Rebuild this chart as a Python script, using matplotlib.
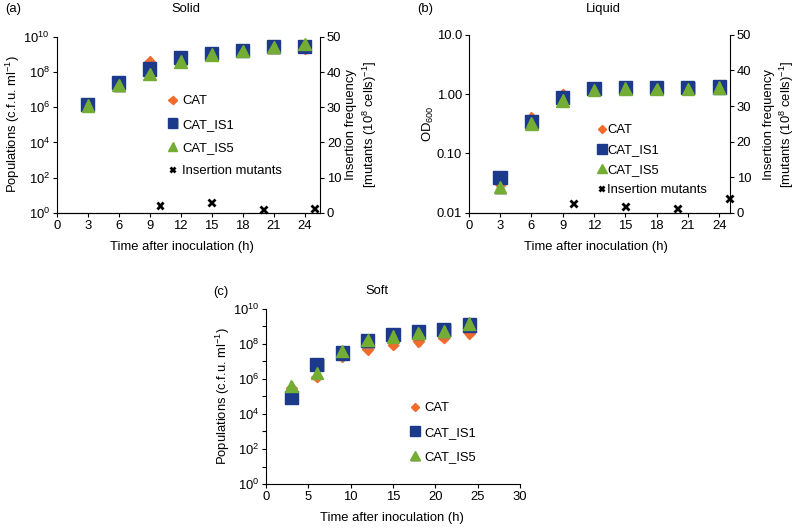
import matplotlib
matplotlib.use("Agg")
import matplotlib.pyplot as plt
import matplotlib.patheffects as pe
import numpy as np

plt.rcParams['font.family'] = ['Liberation Sans', 'DejaVu Sans']
plt.rcParams['mathtext.fontset'] = 'custom'
plt.rcParams['mathtext.rm'] = 'Liberation Sans'
plt.rcParams['mathtext.it'] = 'Liberation Sans:italic'
FS = 9.4

# ---------------- data ----------------
time = [3, 6, 9, 12, 15, 18, 21, 24]

solid_cat = [1.6e6, 2.5e7, 4.0e8, 5.0e8, 1.1e9, 1.6e9, 2.6e9, 2.3e9]
solid_is1 = [1.5e6, 2.5e7, 1.5e8, 6.5e8, 1.2e9, 1.7e9, 2.8e9, 3.0e9]
solid_is5 = [1.3e6, 1.8e7, 8.0e7, 4.0e8, 1.0e9, 1.6e9, 2.6e9, 4.0e9]

mut_time = [10, 15, 20, 25]
solid_mut = [2.0, 2.8, 1.0, 1.3]

liquid_cat = [0.030, 0.40, 1.00, 1.20, 1.30, 1.25, 1.25, 1.30]
liquid_is1 = [0.039, 0.35, 0.87, 1.25, 1.28, 1.28, 1.30, 1.32]
liquid_is5 = [0.027, 0.32, 0.78, 1.18, 1.25, 1.22, 1.22, 1.30]
liquid_mut = [2.6, 1.7, 1.1, 4.0]

soft_cat = [3.0e5, 1.3e6, 2.0e7, 5.0e7, 9.0e7, 1.4e8, 2.2e8, 4.0e8]
soft_is1 = [9.0e4, 7.0e6, 3.0e7, 1.5e8, 3.4e8, 4.8e8, 6.5e8, 1.2e9]
soft_is5 = [4.0e5, 2.2e6, 4.0e7, 1.7e8, 2.7e8, 4.3e8, 5.3e8, 1.5e9]

labels = ['CAT', 'CAT_IS1', 'CAT_IS5', 'Insertion mutants']
c_cat = '#F26B2A'
c_is1 = '#1C3A8C'
c_is5 = '#74AD33'

mshadow = [pe.SimplePatchShadow(offset=(0.8, -0.8), shadow_rgbFace='#888888', alpha=0.6), pe.Normal()]


def series(ax, cat, is1, is5):
    h1, = ax.plot(time, cat, linestyle='none', marker='D', ms=5.5, color=c_cat, mec=c_cat, path_effects=mshadow, zorder=3)
    h2, = ax.plot(time, is1, linestyle='none', marker='s', ms=9.5, color=c_is1, mec=c_is1, path_effects=mshadow, zorder=4)
    h3, = ax.plot(time, is5, linestyle='none', marker='^', ms=9, color=c_is5, mec=c_is5, path_effects=mshadow, zorder=5)
    return [h1, h2, h3]


def style(ax):
    for s in ['top', 'right']:
        ax.spines[s].set_visible(False)
    ax.tick_params(direction='out', length=3, width=0.8, labelsize=FS, pad=2)
    ax.minorticks_off()


def style_right(ax2):
    ax2.set_ylim(0, 50)
    ax2.set_yticks([0, 10, 20, 30, 40, 50])
    ax2.spines['top'].set_visible(False)
    ax2.spines['left'].set_visible(False)
    ax2.tick_params(direction='out', length=3, width=0.8, labelsize=FS, pad=2)


fig = plt.figure(figsize=(8, 5.28), dpi=100)

# ---------------- (a) Solid ----------------
axa = fig.add_axes([0.071, 0.597, 0.329, 0.333])
hs = series(axa, solid_cat, solid_is1, solid_is5)
axa.set_yscale('log')
axa.set_ylim(1, 1e10)
axa.set_xlim(0, 25.5)
axa.set_xticks([0, 3, 6, 9, 12, 15, 18, 21, 24])
axa.set_yticks([1e0, 1e2, 1e4, 1e6, 1e8, 1e10])
style(axa)
axa2 = axa.twinx()
hm, = axa2.plot(mut_time, solid_mut, linestyle='none', marker='x', ms=5, mew=2, color='black',
                path_effects=mshadow, clip_on=False, zorder=6)
style_right(axa2)
axa2.legend(hs + [hm], labels, loc='upper left', bbox_to_anchor=(0.395, 0.705), frameon=False,
            fontsize=FS, labelspacing=0.85, handlelength=0.8, handletextpad=0.35, borderpad=0,
            markerscale=0.75)
axa.set_zorder(axa2.get_zorder() + 1)
axa.patch.set_visible(False)

fig.text(0.006, 0.983, '(a)', fontsize=FS, va='center', ha='left')
fig.text(0.233, 0.983, 'Solid', fontsize=FS, va='center', ha='center')
fig.text(0.228, 0.532, 'Time after inoculation (h)', fontsize=FS, va='center', ha='center')
fig.text(0.016, 0.765, 'Populations (c.f.u. ml$^{-1}$)', fontsize=FS, va='center', ha='center', rotation=90)
fig.text(0.452, 0.765, 'Insertion frequency\n[mutants (10$^{8}$ cells)$^{-1}$]', fontsize=FS, va='center',
         ha='center', rotation=90, linespacing=1.3)

# ---------------- (b) Liquid ----------------
axb = fig.add_axes([0.586, 0.597, 0.326, 0.337])
hs = series(axb, liquid_cat, liquid_is1, liquid_is5)
axb.set_yscale('log')
axb.set_ylim(0.01, 10)
axb.set_xlim(0, 25)
axb.set_xticks([0, 3, 6, 9, 12, 15, 18, 21, 24])
axb.set_yticks([0.01, 0.1, 1, 10])
axb.set_yticklabels(['0.01', '0.10', '1.00', '10.0'])
style(axb)
axb2 = axb.twinx()
hm, = axb2.plot(mut_time, liquid_mut, linestyle='none', marker='x', ms=5, mew=2, color='black',
                path_effects=mshadow, clip_on=False, zorder=6)
style_right(axb2)
axb2.legend(hs + [hm], labels, loc='upper left', bbox_to_anchor=(0.47, 0.535), frameon=False,
            fontsize=FS, labelspacing=0.6, handlelength=0.6, handletextpad=0.1, borderpad=0,
            markerscale=0.75)
axb.set_zorder(axb2.get_zorder() + 1)
axb.patch.set_visible(False)

fig.text(0.521, 0.983, '(b)', fontsize=FS, va='center', ha='left')
fig.text(0.754, 0.983, 'Liquid', fontsize=FS, va='center', ha='center')
fig.text(0.745, 0.532, 'Time after inoculation (h)', fontsize=FS, va='center', ha='center')
fig.text(0.535, 0.765, 'OD$_{600}$', fontsize=FS, va='center', ha='center', rotation=90)
fig.text(0.974, 0.765, 'Insertion frequency\n[mutants (10$^{8}$ cells)$^{-1}$]', fontsize=FS, va='center',
         ha='center', rotation=90, linespacing=1.2)

# ---------------- (c) Soft ----------------
axc = fig.add_axes([0.3325, 0.0833, 0.3175, 0.3317])
hs = series(axc, soft_cat, soft_is1, soft_is5)
axc.set_yscale('log')
axc.set_ylim(1, 1e10)
axc.set_xlim(0, 30)
axc.set_xticks([0, 5, 10, 15, 20, 25, 30])
dec = [10.0 ** k for k in range(0, 11)]
axc.set_yticks(dec)
axc.set_yticklabels(['$10^{%d}$' % k if k % 2 == 0 else '' for k in range(0, 11)])
style(axc)
axc.legend(hs, labels[:3], loc='upper left', bbox_to_anchor=(0.54, 0.505), frameon=False,
           fontsize=FS, labelspacing=0.95, handlelength=0.8, handletextpad=0.3, borderpad=0,
           markerscale=0.75)

fig.text(0.267, 0.447, '(c)', fontsize=FS, va='center', ha='left')
fig.text(0.471, 0.449, 'Soft', fontsize=FS, va='center', ha='center')
fig.text(0.490, 0.019, 'Time after inoculation (h)', fontsize=FS, va='center', ha='center')
fig.text(0.279, 0.25, 'Populations (c.f.u. ml$^{-1}$)', fontsize=FS, va='center', ha='center', rotation=90)

fig.savefig('out.png', dpi=100)
